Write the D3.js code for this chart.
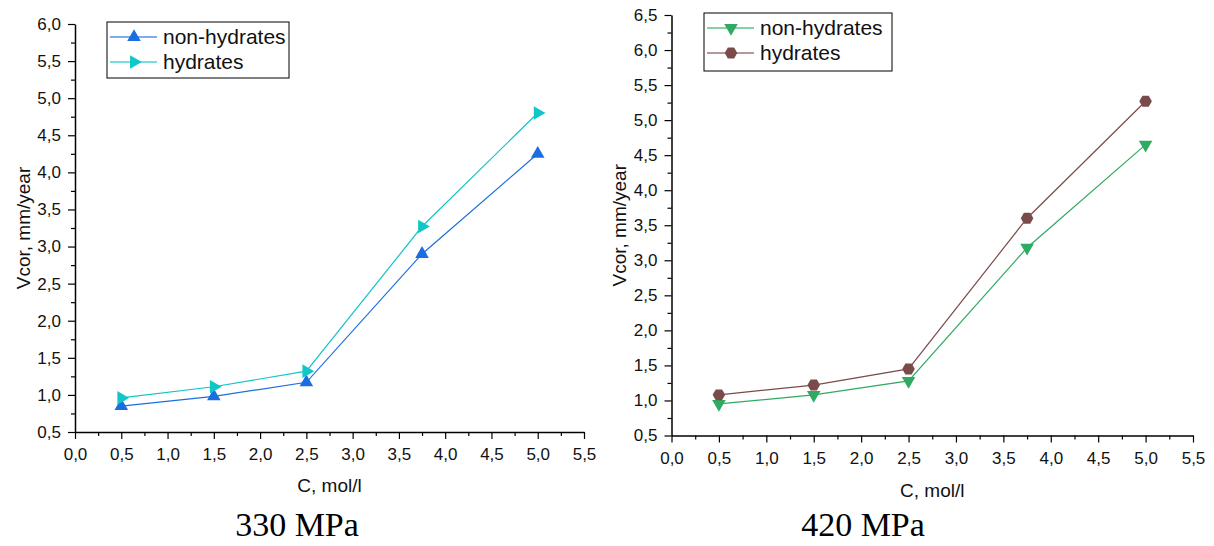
<!DOCTYPE html>
<html><head><meta charset="utf-8">
<script src="https://cdn.jsdelivr.net/npm/d3@7"></script>
<style>
html,body{margin:0;padding:0;background:#fff;}
svg{display:block;font-family:"Liberation Sans",Arial,sans-serif;}
</style></head><body>
<svg id="chart" width="1214" height="546"></svg>
<script>
// ---- data ----
const concentrations = [0.5, 1.5, 2.5, 3.75, 5.0];
const xTicks = [0,0.5,1,1.5,2,2.5,3,3.5,4,4.5,5,5.5];
const seriesNames = ["non-hydrates", "hydrates"];
// 330 MPa
const left_nonHydrates = [0.85, 0.98, 1.17, 2.90, 4.25];
const left_hydrates    = [0.96, 1.11, 1.32, 3.27, 4.80];
const leftYTicks = [0.5,1,1.5,2,2.5,3,3.5,4,4.5,5,5.5,6];
// 420 MPa
const right_nonHydrates = [0.95, 1.08, 1.28, 3.18, 4.65];
const right_hydrates    = [1.08, 1.22, 1.45, 3.60, 5.27];
const rightYTicks = [0.5,1,1.5,2,2.5,3,3.5,4,4.5,5,5.5,6,6.5];
const xTitle = "C, mol/l";
const yTitle = "Vcor, mm/year";
const panelTitles = ["330 MPa", "420 MPa"];

const svg = d3.select("#chart");
const fmt = d => d3.format(".1f")(d).replace(".", ",");

function hexPath(r){
  const pts = d3.range(6).map(i => {
    const a = Math.PI/3*i;
    return [r*Math.cos(a), r*Math.sin(a)];
  });
  return d3.line()(pts) + "Z";
}
function markerPath(kind){
  if (kind === "hex") return hexPath(6.3);
  return d3.symbol(d3.symbolTriangle, 80)();
}
function markerRot(kind){
  if (kind === "down") return 180;
  if (kind === "right") return 90;
  return 0;
}

const panels = [
  { x0:75, x1:584, yTop:24, yBot:432, yMax:6.0, yTicks:leftYTicks,
    series:[
      {name:seriesNames[0], values:left_nonHydrates, color:"#1b6ee0", kind:"up"},
      {name:seriesNames[1], values:left_hydrates, color:"#10c6c8", kind:"right"}
    ],
    legend:{x:107, y:22, w:182, h:56},
    yTitleX:23, xTitleY:492, title:panelTitles[0], titleX:297, titleY:536 },
  { x0:671.5, x1:1193, yTop:15, yBot:435.5, yMax:6.5, yTicks:rightYTicks,
    series:[
      {name:seriesNames[0], values:right_nonHydrates, color:"#2eaa62", kind:"down"},
      {name:seriesNames[1], values:right_hydrates, color:"#7b4b4b", kind:"hex"}
    ],
    legend:{x:704, y:13, w:188, h:58},
    yTitleX:619, xTitleY:497, title:panelTitles[1], titleX:863, titleY:536 }
];

panels.forEach(p => {
  const x = d3.scaleLinear().domain([0,5.5]).range([p.x0, p.x1]);
  const y = d3.scaleLinear().domain([0.5,p.yMax]).range([p.yBot, p.yTop]);
  const g = svg.append("g");

  // minor ticks
  const xMinor = d3.range(0.25, 5.5, 0.5);
  const yMinor = d3.range(0.75, p.yMax, 0.5);
  g.append("g").attr("transform",`translate(0,${p.yBot})`)
    .call(d3.axisBottom(x).tickValues(xMinor).tickSize(4).tickFormat(""))
    .call(a=>a.select(".domain").remove());
  g.append("g").attr("transform",`translate(${p.x0},0)`)
    .call(d3.axisLeft(y).tickValues(yMinor).tickSize(4).tickFormat(""))
    .call(a=>a.select(".domain").remove());

  const xa = g.append("g").attr("transform",`translate(0,${p.yBot})`)
    .call(d3.axisBottom(x).tickValues(xTicks).tickSize(7).tickSizeOuter(0).tickPadding(9).tickFormat(fmt));
  const ya = g.append("g").attr("transform",`translate(${p.x0},0)`)
    .call(d3.axisLeft(y).tickValues(p.yTicks).tickSize(7).tickSizeOuter(0).tickPadding(7).tickFormat(fmt));
  [xa, ya].forEach(a => {
    a.selectAll("text").attr("font-size",17).attr("fill","#111").attr("font-family","Liberation Sans, Arial, sans-serif");
    a.select(".domain").attr("stroke","#000").attr("stroke-width",1.5);
  });
  g.selectAll("g.tick line").attr("stroke","#000").attr("stroke-width",1.2);

  // axis titles
  g.append("text").attr("x",(p.x0+p.x1)/2).attr("y",p.xTitleY).attr("text-anchor","middle")
    .attr("font-size",19).attr("fill","#111").text(xTitle);
  g.append("text").attr("transform",`translate(${p.yTitleX},${(p.yTop+p.yBot)/2}) rotate(-90)`)
    .attr("text-anchor","middle").attr("dy","0.35em").attr("font-size",19).attr("fill","#111").text(yTitle);
  g.append("text").attr("x",p.titleX).attr("y",p.titleY).attr("text-anchor","middle")
    .attr("font-family","Liberation Serif, Times New Roman, serif").attr("font-size",34).attr("fill","#000").text(p.title);

  const line = d3.line().x((d,i)=>x(concentrations[i])).y(d=>y(d));
  p.series.forEach(s => {
    g.append("path").datum(s.values).attr("d", line).attr("fill","none")
      .attr("stroke", s.color).attr("stroke-width",1.2);
    g.selectAll(null).data(s.values).enter().append("path")
      .attr("d", markerPath(s.kind))
      .attr("transform",(d,i)=>`translate(${x(concentrations[i])},${y(d)}) rotate(${markerRot(s.kind)})`)
      .attr("fill", s.color);
  });

  // legend
  const L = p.legend;
  const lg = g.append("g");
  lg.append("rect").attr("x",L.x).attr("y",L.y).attr("width",L.w).attr("height",L.h)
    .attr("fill","#fff").attr("stroke","#000").attr("stroke-width",1);
  p.series.forEach((s,i) => {
    const cy = L.y + 15 + i*25;
    lg.append("line").attr("x1",L.x+3).attr("x2",L.x+50).attr("y1",cy).attr("y2",cy)
      .attr("stroke",s.color).attr("stroke-width",1.5).attr("opacity",0.75);
    lg.append("path").attr("d",markerPath(s.kind))
      .attr("transform",`translate(${L.x+27},${cy}) rotate(${markerRot(s.kind)})`).attr("fill",s.color);
    lg.append("text").attr("x",L.x+56).attr("y",cy).attr("dy","0.35em")
      .attr("font-size",21).attr("fill","#111").text(s.name);
  });
});
</script>
</body></html>
